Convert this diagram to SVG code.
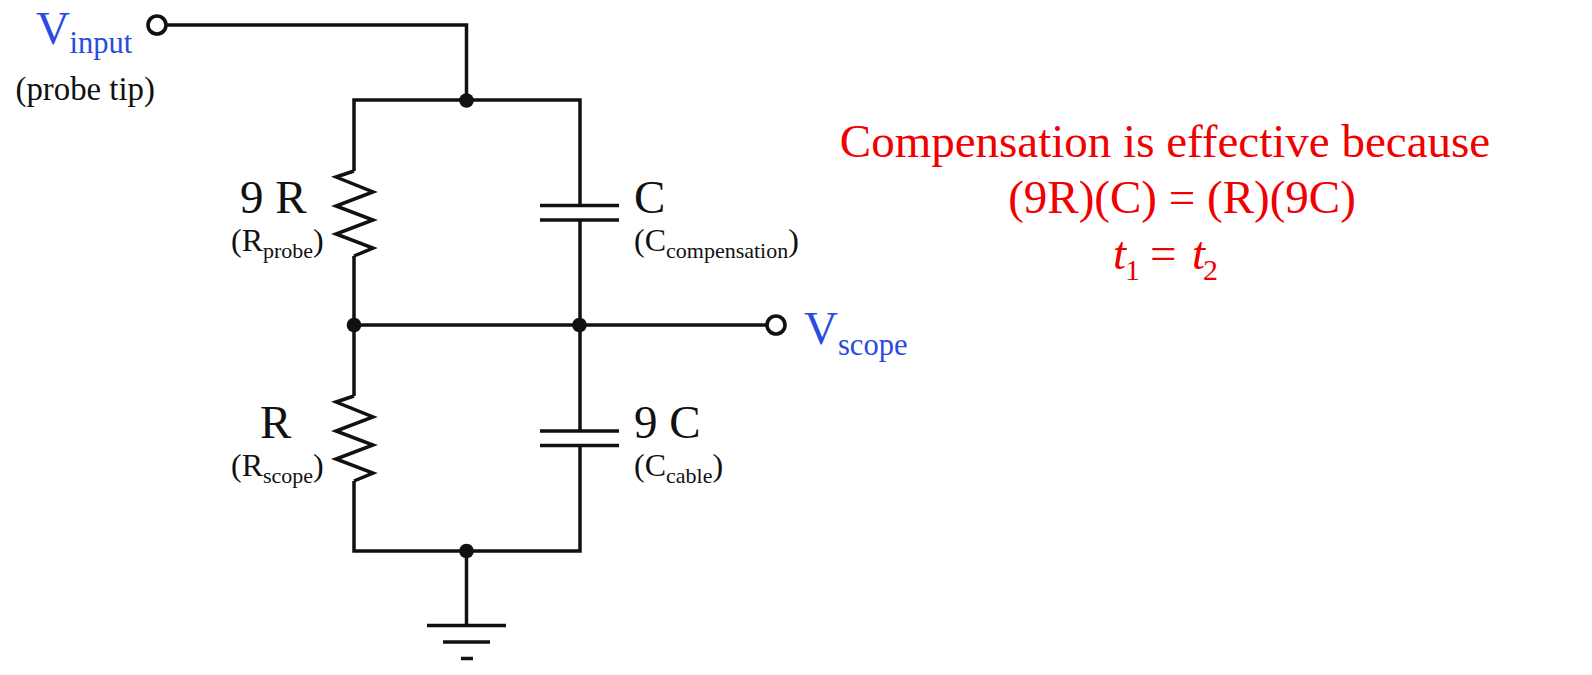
<svg xmlns="http://www.w3.org/2000/svg" width="1592" height="675" viewBox="0 0 1592 675">
<style>
text{font-family:"Liberation Serif","Times New Roman",serif;fill:#111}
.w{fill:none;stroke:#111;stroke-width:3.5;stroke-linejoin:miter}
.d{fill:#111;stroke:none}
.o{fill:#fff;stroke:#111;stroke-width:3.6}
.big{font-size:47px}
.mid{font-size:32px}
.sub{font-size:22px}
.blue{fill:#2a4be0}
.red{fill:#f00000;font-size:47px}
</style>
<rect width="1592" height="675" fill="#fff"/>
<g id="connectors">
<path class="w" d="M167 25H466.500V101"/>
<path class="w" d="M354 171V100H580V205"/>
<path class="w" d="M580 220V431"/>
<path class="w" d="M354 256V396"/>
<path class="w" d="M354 325H766"/>
<path class="w" d="M354 481V551H580V445"/>
<path class="w" d="M466.500 551V626"/>
</g>
<g id="junctions">
<circle class="d" cx="466.500" cy="100.500" r="7.300"/>
<circle class="d" cx="354" cy="325" r="7.300"/>
<circle class="d" cx="579.500" cy="325" r="7.300"/>
<circle class="d" cx="466.500" cy="551" r="7.300"/>
</g>
<g id="v-input">
<circle class="o" cx="157" cy="25" r="9"/>
<text class="big blue" x="36" y="44">V</text>
<text class="blue" x="69.500" y="53" font-size="30.500">input</text>
<text class="mid" x="15.500" y="99.500" style="font-size:32.800px">(probe tip)</text>
</g>
<g id="v-scope">
<circle class="o" cx="776" cy="325" r="9"/>
<text class="big blue" x="804" y="343.500">V</text>
<text class="blue" x="838" y="355" font-size="30.500">scope</text>
</g>
<g id="r-probe">
<path class="w" d="M354 171L336 177L373 192L336 206L373 220L336 234L373 248L354 256"/>
<text class="big" x="240" y="213">9 R</text>
<text class="mid" x="231" y="250.500">(R<tspan class="sub" dy="7">probe</tspan><tspan dy="-7">)</tspan></text>
</g>
<g id="r-scope">
<path class="w" d="M354 396L336 402L373 417L336 431L373 445L336 459L373 473L354 481"/>
<text class="big" x="260" y="437.500">R</text>
<text class="mid" x="231" y="476">(R<tspan class="sub" dy="7">scope</tspan><tspan dy="-7">)</tspan></text>
</g>
<g id="c-compensation">
<path class="w" d="M540 205.500H619M540 220H619"/>
<text class="big" x="634" y="213">C</text>
<text class="mid" x="634" y="250.500">(C<tspan class="sub" dy="7">compensation</tspan><tspan dy="-7">)</tspan></text>
</g>
<g id="c-cable">
<path class="w" d="M540 431H619M540 445.500H619"/>
<text class="big" x="634" y="437.500">9 C</text>
<text class="mid" x="634" y="476">(C<tspan class="sub" dy="7">cable</tspan><tspan dy="-7">)</tspan></text>
</g>
<g id="ground">
<path class="w" d="M427 625.500H506M443 642H490M461 658.500H473"/>
</g>
<g id="note">
<text class="red" x="1165" y="157" text-anchor="middle">Compensation is effective because</text>
<text class="red" x="1182" y="213" text-anchor="middle">(9R)(C) = (R)(9C)</text>
<text class="red" y="269"><tspan x="1113" font-style="italic">t</tspan><tspan x="1125" font-size="30" dy="10.500">1</tspan><tspan x="1150" dy="-10.500">=</tspan><tspan x="1192" font-style="italic">t</tspan><tspan x="1203" font-size="30" dy="10.500">2</tspan></text>
</g>
</svg>
